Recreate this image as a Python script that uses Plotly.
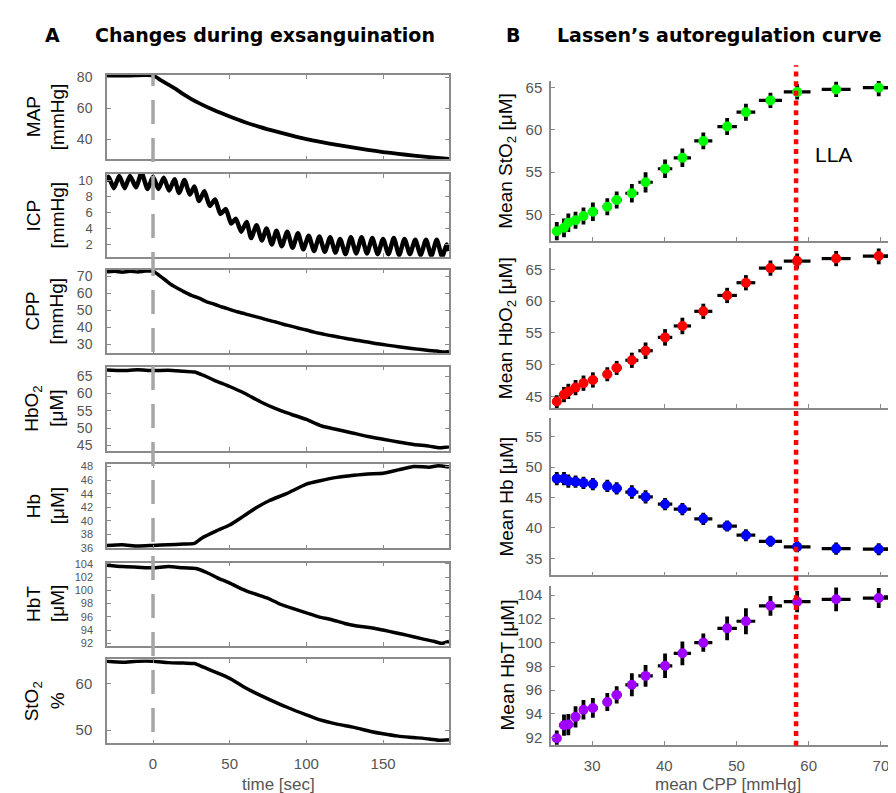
import plotly.graph_objects as go

W, H = 896, 793

# ---------------- Panel A data (time series) ----------------
map_t = [-30, -15, 0, 5, 10, 15, 20, 25, 30, 40, 50, 60, 70, 80, 90, 100, 110, 120, 130, 140, 150, 160, 170, 180, 193]
map_v = [81.3, 81.3, 81.3, 78.3, 75.4, 72.5, 69.0, 66.0, 63.4, 58.7, 54.7, 51.0, 47.8, 45.0, 42.4, 40.0, 38.0, 36.2, 34.6, 33.0, 31.6, 30.4, 29.3, 28.3, 27.2]

icp_t = [-30, -29, -25.5, -22, -18.5, -15, -11, -7.5, -3.5, 0, 3.5, 7, 10.5, 14, 17, 20.5, 24, 27, 30, 33.5, 37,
         40.5, 44, 47.5, 51, 54, 57.5, 61, 64, 67.5, 71, 74, 77.5, 80.5, 84, 87.5, 91, 94.5, 98, 101.5, 105,
         108.5, 112, 115.5, 119, 122, 125.5, 129, 132.5, 136, 139.5, 143, 146.5, 150, 153.5, 157, 160.5, 164,
         167.5, 171, 174.5, 178, 181.5, 185, 188.5, 191.5, 193]
icp_v = [9.8, 10.4, 9.0, 10.5, 9.0, 10.5, 9.1, 10.9, 8.9, 10.4, 8.9, 10.3, 8.7, 10.1, 8.4, 10.0, 8.2, 9.2, 7.4, 8.6, 6.8,
         7.6, 5.8, 6.4, 4.6, 5.2, 3.6, 4.8, 2.8, 4.4, 2.5, 4.0, 2.0, 3.7, 1.8, 3.6, 1.6, 3.4, 1.4, 3.1, 1.2,
         3.0, 1.1, 2.9, 1.0, 2.7, 0.8, 2.9, 0.9, 2.9, 0.9, 2.8, 0.8, 2.7, 0.8, 2.8, 0.7, 2.7,
         0.8, 2.6, 0.7, 2.6, 0.6, 2.6, 0.5, 2.0, 1.2]

cpp_t = [-30, -25, -20, -15, -10, -5, 0, 4, 8, 12, 16, 20, 25, 30, 35, 40, 45, 50, 55, 60, 65, 70, 75, 80, 85, 90, 95,
         100, 105, 110, 115, 120, 125, 130, 135, 140, 145, 150, 155, 160, 165, 170, 175, 180, 185, 190, 193]
cpp_v = [72.6, 72.9, 72.4, 72.9, 72.5, 73.0, 73.0, 70.5, 67.8, 65.0, 63.0, 61.0, 58.8, 57.2, 55.0, 53.6, 52.0, 50.6, 49.2,
         48.0, 46.8, 45.6, 44.3, 43.2, 41.9, 40.8, 39.6, 38.5, 37.3, 36.3, 35.4, 34.6, 33.7, 33.0, 32.2, 31.5, 30.7,
         30.0, 29.4, 28.8, 28.2, 27.6, 27.1, 26.6, 26.2, 25.6, 26.0]

hbo2_t = [-30, -20, -10, 0, 10, 20, 27, 33, 40, 50, 60, 70, 80, 90, 100, 110, 120, 130, 140, 150, 160, 170, 180, 187, 193]
hbo2_v = [66.8, 66.6, 66.8, 66.6, 66.7, 66.4, 66.2, 65.2, 63.8, 62.0, 60.0, 57.6, 55.6, 54.0, 52.5, 50.6, 49.6, 48.6,
          47.6, 46.8, 46.0, 45.3, 44.8, 44.3, 44.6]

hb_t = [-30, -20, -10, 0, 10, 20, 27, 32, 41, 50, 59, 67, 76, 87, 100, 109, 120, 131, 140, 150, 160, 170, 180, 186, 193]
hb_v = [36.4, 36.5, 36.3, 36.4, 36.5, 36.6, 36.7, 37.5, 38.5, 39.4, 40.7, 41.9, 43.0, 44.0, 45.4, 45.9, 46.4, 46.7,
        46.9, 47.0, 47.5, 48.0, 47.9, 48.1, 47.9]

hbt_t = [-30, -20, -10, 0, 10, 20, 28, 35, 42, 50, 58, 66, 75, 83, 92, 100, 108, 116, 125, 133, 141, 150, 158, 166,
         175, 183, 188, 193]
hbt_v = [103.8, 103.6, 103.5, 103.4, 103.6, 103.4, 103.3, 102.7, 101.9, 101.1, 100.2, 99.5, 98.8, 97.9, 97.2, 96.6,
         96.0, 95.6, 95.0, 94.6, 94.4, 94.0, 93.6, 93.2, 92.7, 92.3, 92.0, 92.3]

sto2_t = [-30, -20, -10, 0, 10, 20, 27, 33, 41, 50, 59, 67, 76, 87, 100, 109, 120, 131, 142, 150, 160, 170, 180, 187, 193]
sto2_v = [64.9, 64.7, 64.9, 64.9, 64.6, 64.5, 64.4, 63.6, 62.5, 61.2, 59.4, 58.0, 56.6, 55.0, 53.3, 52.2, 51.3, 50.6,
          49.7, 49.2, 48.7, 48.4, 48.1, 47.8, 47.9]

time_ticks = [0, 50, 100, 150]

# ---------------- Panel B data (autoregulation curve) ----------------
mean_cpp = [25.1, 26.1, 26.7, 27.7, 28.8, 30.1, 32.1, 33.4, 35.5, 37.4, 40.1, 42.5, 45.4, 48.7, 51.3, 54.7, 58.4, 63.8, 69.7, 72.6]
mean_cpp_err = [0.6, 0.7, 0.7, 0.65, 0.6, 0.7, 0.65, 0.7, 0.9, 1.0, 1.0, 1.2, 1.25, 1.35, 1.3, 1.6, 1.85, 2.0, 2.2, 2.2]

mean_sto2 = [48.0, 48.4, 49.0, 49.3, 49.8, 50.3, 50.9, 51.7, 52.5, 53.8, 55.4, 56.7, 58.7, 60.4, 62.1, 63.5, 64.5, 64.8, 65.0, 65.0]
mean_sto2_err = [1.1, 1.1, 1.1, 1.0, 1.0, 1.1, 1.0, 1.0, 1.1, 1.2, 1.1, 1.1, 1.0, 1.0, 1.0, 0.9, 0.9, 0.9, 1.0, 1.0]

mean_hbo2 = [44.2, 45.3, 45.8, 46.4, 47.1, 47.6, 48.5, 49.5, 50.7, 52.2, 54.3, 56.1, 58.4, 60.9, 62.9, 65.2, 66.3, 66.7, 67.1, 67.1]
mean_hbo2_err = [1.0, 1.2, 1.2, 1.2, 1.2, 1.2, 1.1, 1.1, 1.2, 1.3, 1.3, 1.3, 1.2, 1.2, 1.2, 1.2, 1.2, 1.2, 1.3, 1.3]

mean_hb = [48.1, 48.1, 47.7, 47.6, 47.4, 47.2, 46.9, 46.5, 45.9, 45.1, 43.9, 43.1, 41.5, 40.3, 38.8, 37.8, 36.9, 36.6, 36.5, 36.5]
mean_hb_err = [1.1, 1.1, 1.1, 1.0, 1.0, 1.0, 1.0, 1.0, 1.1, 1.1, 1.0, 1.0, 1.0, 0.9, 1.0, 0.9, 0.9, 1.0, 1.0, 1.0]

mean_hbt = [91.95, 93.05, 93.1, 93.75, 94.35, 94.5, 95.0, 95.6, 96.45, 97.2, 98.05, 99.1, 100.0, 101.2, 101.8, 103.1, 103.45, 103.65, 103.75, 103.85]
mean_hbt_err = [0.66, 0.9, 0.9, 0.9, 0.83, 0.83, 0.75, 0.72, 0.97, 0.92, 1.03, 1.0, 0.76, 1.0, 1.1, 0.83, 0.9, 1.0, 0.84, 1.03]

lla_cpp = 58.25
cpp_ticks = [30, 40, 50, 60, 70]

# ---------------- helpers ----------------
def dx(px):
    return px / W

def dy(py):
    return 1 - py / H

AXC = '#8a8a8a'
TICKC = '#555555'
FONT = 'Liberation Sans, Arial, sans-serif'
TFONT = 'DejaVu Sans, sans-serif'

fig = go.Figure()
layout = {}
annotations = []

left_series = [
    (map_t, map_v, [26.9, 81.6], [40, 60, 80], (62, 147.5), ['MAP', '[mmHg]'], 3.8, 14),
    (icp_t, icp_v, [0.48, 10.75], [2, 4, 6, 8, 10], (162.5, 246.5), ['ICP', '[mmHg]'], 4.5, 13),
    (cpp_t, cpp_v, [24.8, 73.9], [30, 40, 50, 60, 70], (259.5, 344.7), ['CPP', '[mmHg]'], 3.5, 14),
    (hbo2_t, hbo2_v, [43.4, 67.75], [45, 50, 55, 60, 65], (358, 443.7), ['HbO<sub>2</sub>', '[μM]'], 3.5, 14),
    (hb_t, hb_v, [35.95, 48.35], [36, 38, 40, 42, 44, 46, 48], (457, 542.7), ['Hb', '[μM]'], 3.5, 11),
    (hbt_t, hbt_v, [91.65, 104.2], [92, 94, 96, 98, 100, 102, 104], (557, 641.3), ['HbT', '[μM]'], 3.5, 11),
    (sto2_t, sto2_v, [47.15, 65.3], [50, 60], (655.3, 740.5), ['StO<sub>2</sub>', '%'], 3.5, 15),
]

n_left = len(left_series)
for i, (t, v, rng, ytv, (top, bot), lab, lw, fs) in enumerate(left_series, start=1):
    xs = 'x' if i == 1 else f'x{i}'
    ys = 'y' if i == 1 else f'y{i}'
    xa = 'xaxis' if i == 1 else f'xaxis{i}'
    ya = 'yaxis' if i == 1 else f'yaxis{i}'
    fig.add_trace(go.Scatter(x=t, y=v, xaxis=xs, yaxis=ys, mode='lines',
                             line=dict(color='black', width=lw, shape='spline', smoothing=0.6),
                             showlegend=False, hoverinfo='skip', cliponaxis=False))
    layout[xa] = dict(domain=[dx(99), dx(441)], range=[-30, 193], anchor=ys,
                      showline=True, linecolor=AXC, linewidth=1.5, mirror='ticks',
                      ticks='inside', ticklen=4, tickcolor=AXC, tickvals=time_ticks,
                      showticklabels=(i == n_left), showgrid=False, zeroline=False,
                      tickfont=dict(family=FONT, size=15, color=TICKC), ticklabelstandoff=6)
    layout[ya] = dict(domain=[dy(bot), dy(top)], range=rng, anchor=xs,
                      showline=True, linecolor=AXC, linewidth=1.5, mirror='ticks',
                      ticks='inside', ticklen=4, tickcolor=AXC, tickvals=ytv,
                      showgrid=False, zeroline=False,
                      tickfont=dict(family=FONT, size=fs, color=TICKC), ticklabelstandoff=10)
    ymid = dy((top + bot) / 2)
    annotations.append(dict(text=lab[0], x=dx(25), y=ymid, xref='paper', yref='paper',
                            textangle=-90, showarrow=False, xanchor='center', yanchor='middle',
                            font=dict(family=FONT, size=19, color='black')))
    annotations.append(dict(text=lab[1], x=dx(49), y=ymid, xref='paper', yref='paper',
                            textangle=-90, showarrow=False, xanchor='center', yanchor='middle',
                            font=dict(family=FONT, size=19, color='black')))

right_series = [
    (mean_sto2, mean_sto2_err, '#00ff00', [46.9, 65.8], [50, 55, 60, 65], (68, 230), 'Mean StO<sub>2</sub> [μM]'),
    (mean_hbo2, mean_hbo2_err, '#ff0000', [43.2, 68.3], [45, 50, 55, 60, 65], (238, 400), 'Mean HbO<sub>2</sub> [μM]'),
    (mean_hb, mean_hb_err, '#0000ff', [32.2, 58.1], [35, 40, 45, 50, 55], (410, 570), 'Mean Hb [μM]'),
    (mean_hbt, mean_hbt_err, '#a000ff', [91.4, 104.75], [92, 94, 96, 98, 100, 102, 104], (581, 742), 'Mean HbT [μM]'),
]

for j, (vals, errs, col, rng, ytv, (top, bot), lab) in enumerate(right_series):
    i = n_left + 1 + j
    xs, ys = f'x{i}', f'y{i}'
    xa, ya = f'xaxis{i}', f'yaxis{i}'
    fig.add_trace(go.Scatter(x=mean_cpp, y=vals, xaxis=xs, yaxis=ys, mode='markers',
                             marker=dict(color=col, size=10, line=dict(width=0)),
                             error_x=dict(type='data', array=mean_cpp_err, color='black', thickness=3.2, width=0),
                             error_y=dict(type='data', array=errs, color='black', thickness=3.8, width=0),
                             showlegend=False, hoverinfo='skip', cliponaxis=False))
    layout[xa] = dict(domain=[dx(543), 1.0], range=[24.3, 73.2], anchor=ys,
                      showline=True, linecolor=AXC, linewidth=1.5, mirror=False,
                      ticks='inside', ticklen=4, tickcolor=AXC, tickvals=cpp_ticks,
                      showticklabels=(j == len(right_series) - 1), showgrid=False, zeroline=False,
                      tickfont=dict(family=FONT, size=15, color=TICKC), ticklabelstandoff=6)
    layout[ya] = dict(domain=[dy(bot), dy(top)], range=rng, anchor=xs,
                      showline=True, linecolor=AXC, linewidth=1.5, mirror=False,
                      ticks='inside', ticklen=4, tickcolor=AXC, tickvals=ytv,
                      showgrid=False, zeroline=False,
                      tickfont=dict(family=FONT, size=15, color=TICKC), ticklabelstandoff=4)
    annotations.append(dict(text=lab, x=dx(499), y=dy((top + bot) / 2), xref='paper', yref='paper',
                            textangle=-90, showarrow=False, xanchor='center', yanchor='middle',
                            font=dict(family=FONT, size=19, color='black')))

# axis titles
annotations.append(dict(text='time [sec]', x=dx(270), y=dy(782), xref='paper', yref='paper', showarrow=False,
                        xanchor='center', yanchor='middle', font=dict(family=FONT, size=17, color=TICKC)))
annotations.append(dict(text='mean CPP [mmHg]', x=dx(720), y=dy(782), xref='paper', yref='paper', showarrow=False,
                        xanchor='center', yanchor='middle', font=dict(family=FONT, size=17, color=TICKC)))
# panel titles
annotations.append(dict(text='<b>A</b>', x=dx(44), y=dy(21), xref='paper', yref='paper', showarrow=False,
                        xanchor='center', yanchor='middle', font=dict(family=TFONT, size=19, color='black')))
annotations.append(dict(text='<b>Changes during exsanguination</b>', x=dx(257), y=dy(21), xref='paper', yref='paper',
                        showarrow=False, xanchor='center', yanchor='middle',
                        font=dict(family=TFONT, size=19, color='black')))
annotations.append(dict(text='<b>B</b>', x=dx(505), y=dy(21), xref='paper', yref='paper', showarrow=False,
                        xanchor='center', yanchor='middle', font=dict(family=TFONT, size=19, color='black')))
annotations.append(dict(text='<b>Lassen’s autoregulation curve</b>', x=dx(711), y=dy(21), xref='paper', yref='paper',
                        showarrow=False, xanchor='center', yanchor='middle',
                        font=dict(family=TFONT, size=19, color='black')))
# LLA label
annotations.append(dict(text='LLA', x=dx(825), y=dy(143), xref='paper', yref='paper', showarrow=False,
                        xanchor='center', yanchor='middle', font=dict(family=FONT, size=21, color='black')))

shapes = [
    dict(type='line', xref='x', yref='paper', x0=0, x1=0, y0=dy(729), y1=dy(62),
         line=dict(color='#a6a6a6', width=3.5, dash='24px,14px'), layer='above'),
    dict(type='line', xref=f'x{n_left + 1}', yref='paper', x0=lla_cpp, x1=lla_cpp, y0=dy(743), y1=dy(52),
         line=dict(color='#ff0000', width=4.5, dash='5px,4.7px'), layer='above'),
]

fig.update_layout(width=W, height=H, margin=dict(l=0, r=0, t=0, b=0),
                  paper_bgcolor='white', plot_bgcolor='white',
                  annotations=annotations, shapes=shapes, showlegend=False, **layout)

fig.write_html('out.html')
